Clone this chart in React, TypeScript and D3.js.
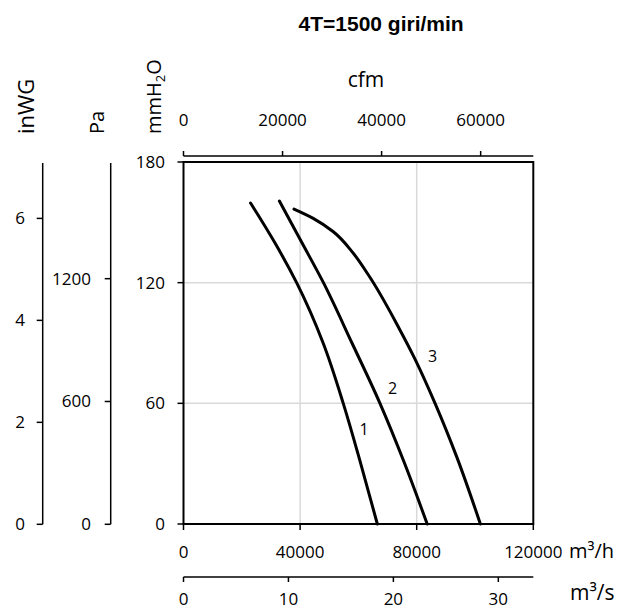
import React from 'react';
import * as d3 from 'd3';

// ---- data ----
const flowTicks = [0, 40000, 80000, 120000];
const pressureTicks = [0, 60, 120, 180];
const gridFlow = [40000, 80000];
const gridPressure = [60, 120];
const cfmTicks = [0, 20000, 40000, 60000];
const m3sTicks = [0, 10, 20, 30];
const inwgTicks = [0, 2, 4, 6];
const paTicks = [0, 600, 1200];

const curve1Flow = [23000, 31400, 38800, 47900, 54800, 60750, 66500];
const curve1Pressure = [159.6, 139.7, 120, 90, 60, 30.3, 0];
const curve2Flow = [32900, 40500, 48000, 57800, 67400, 75800, 83600];
const curve2Pressure = [160.6, 140.2, 120, 90, 60, 30.3, 0];
const curve3Flow = [37900, 44500, 51400, 58250, 63450, 74250, 79250, 86300, 93700, 101850];
const curve3Pressure = [156.6, 152.0, 145.3, 134.6, 123.8, 96.5, 82.5, 60, 33.5, 0];

const curveNames = ['1', '2', '3'];
const labelFlow = [61950, 71760, 85470];
const labelPressure = [46.9, 67.2, 83.3];

const title = '4T=1500 giri/min';

// unit conversions
const M3H_PER_CFM = 1.699011;
const MM_PER_INWG = 25.4;
const PA_PER_MM = 9.80665;

export default function App() {
  const W = 621, H = 609;
  const x = d3.scaleLinear().domain([0, 120000]).range([183.5, 533.3]);
  const y = d3.scaleLinear().domain([0, 180]).range([524, 162]);
  const xCfm = d3.scaleLinear().domain([0, 120000 / M3H_PER_CFM]).range([183.5, 533.3]);
  const xS = d3.scaleLinear().domain([0, 120000 / 3600]).range([183.5, 533.3]);
  const yIn = d3.scaleLinear().domain([0, 180 / MM_PER_INWG]).range([524.3, 163]);
  const yPa = d3.scaleLinear().domain([0, 180 * PA_PER_MM]).range([524.3, 163]);

  const line = d3.line<[number, number]>()
    .x(d => x(d[0]))
    .y(d => y(d[1]))
    .curve(d3.curveMonotoneY);

  const series: [number[], number[]][] = [
    [curve1Flow, curve1Pressure],
    [curve2Flow, curve2Pressure],
    [curve3Flow, curve3Pressure],
  ];

  const font = "'Open Sans', sans-serif";
  const tickFs = 17;
  const cfmAxisY = 156;
  const sAxisY = 577;
  const inX = 42.7;
  const paX = 110.7;

  return (
    <svg width={W} height={H} style={{ position: 'absolute', left: 0, top: 0 }} fontFamily={font}>
      <rect x={0} y={0} width={W} height={H} fill="#fff" />
      {/* title */}
      <text x={298.5} y={30.5} fontFamily="'Liberation Sans', Arial, sans-serif" fontWeight="bold" fontSize={21} fill="#000">{title}</text>

      {/* grid */}
      {gridFlow.map(v => (
        <line key={'gx' + v} x1={x(v)} x2={x(v)} y1={y(0)} y2={y(180)} stroke="#d9d9d9" strokeWidth={1.5} />
      ))}
      {gridPressure.map(v => (
        <line key={'gy' + v} x1={x(0)} x2={x(120000)} y1={y(v)} y2={y(v)} stroke="#d9d9d9" strokeWidth={1.5} />
      ))}

      {/* frame */}
      <rect x={x(0)} y={y(180)} width={x(120000) - x(0)} height={y(0) - y(180)} fill="none" stroke="#000" strokeWidth={2} />

      {/* main y ticks (mmH2O) */}
      {pressureTicks.map(v => (
        <g key={'yt' + v}>
          <line x1={x(0) - 6} x2={x(0)} y1={y(v)} y2={y(v)} stroke="#000" strokeWidth={1.5} />
          <text x={165} y={y(v)} dy="0.35em" textAnchor="end" fontSize={tickFs} fill="#000">{v}</text>
        </g>
      ))}
      {/* main x ticks (m3/h) */}
      {flowTicks.map(v => (
        <g key={'xt' + v}>
          <line x1={x(v)} x2={x(v)} y1={y(0)} y2={y(0) + 6} stroke="#000" strokeWidth={1.5} />
          <text x={x(v)} y={557.5} textAnchor="middle" fontSize={tickFs} fill="#000">{v}</text>
        </g>
      ))}
      <text x={569} y={557.5} fontSize={20} fill="#000">m³/h</text>

      {/* cfm axis (top) */}
      <line x1={xCfm(0)} x2={xCfm.range()[1]} y1={cfmAxisY} y2={cfmAxisY} stroke="#000" strokeWidth={1.5} />
      {cfmTicks.map(v => (
        <g key={'ct' + v}>
          <line x1={xCfm(v)} x2={xCfm(v)} y1={cfmAxisY} y2={cfmAxisY - 5} stroke="#000" strokeWidth={1.5} />
          <text x={xCfm(v)} y={126} textAnchor="middle" fontSize={tickFs} fill="#000">{v}</text>
        </g>
      ))}
      <text x={366} y={87} textAnchor="middle" fontSize={21} fill="#000">cfm</text>

      {/* m3/s axis (bottom) */}
      <line x1={xS(0)} x2={xS.range()[1]} y1={sAxisY} y2={sAxisY} stroke="#000" strokeWidth={1.5} />
      {m3sTicks.map(v => (
        <g key={'st' + v}>
          <line x1={xS(v)} x2={xS(v)} y1={sAxisY} y2={sAxisY + 5} stroke="#000" strokeWidth={1.5} />
          <text x={xS(v)} y={604.5} textAnchor="middle" fontSize={tickFs} fill="#000">{v}</text>
        </g>
      ))}
      <text x={570} y={600} fontSize={21} fill="#000">m³/s</text>

      {/* inWG axis */}
      <line x1={inX} x2={inX} y1={yIn.range()[0]} y2={yIn.range()[1]} stroke="#000" strokeWidth={1.5} />
      {inwgTicks.map(v => (
        <g key={'it' + v}>
          <line x1={inX - 6} x2={inX} y1={yIn(v)} y2={yIn(v)} stroke="#000" strokeWidth={1.5} />
          <text x={25} y={yIn(v)} dy="0.35em" textAnchor="end" fontSize={tickFs} fill="#000">{v}</text>
        </g>
      ))}
      {/* Pa axis */}
      <line x1={paX} x2={paX} y1={yPa.range()[0]} y2={yPa.range()[1]} stroke="#000" strokeWidth={1.5} />
      {paTicks.map(v => (
        <g key={'pt' + v}>
          <line x1={paX - 6} x2={paX} y1={yPa(v)} y2={yPa(v)} stroke="#000" strokeWidth={1.5} />
          <text x={91} y={yPa(v)} dy="0.35em" textAnchor="end" fontSize={tickFs} fill="#000">{v}</text>
        </g>
      ))}

      {/* rotated unit labels */}
      <text transform="translate(34,134) rotate(-90)" fontSize={22} fill="#000">inWG</text>
      <text transform="translate(104,134) rotate(-90)" fontSize={20} fill="#000">Pa</text>
      <text transform="translate(161,134) rotate(-90)" fontSize={20} fill="#000">
        mmH<tspan fontSize={13} dy={4}>2</tspan><tspan dy={-4}>O</tspan>
      </text>

      {/* curves */}
      {series.map(([fx, py], i) => (
        <path key={'c' + i} d={line(fx.map((f, j) => [f, py[j]] as [number, number])) || ''}
          fill="none" stroke="#000" strokeWidth={3} strokeLinecap="round" />
      ))}
      {curveNames.map((n, i) => (
        <text key={'l' + n} x={x(labelFlow[i])} y={y(labelPressure[i])} dy="0.35em" textAnchor="middle" fontSize={16} fill="#000">{n}</text>
      ))}
    </svg>
  );
}
